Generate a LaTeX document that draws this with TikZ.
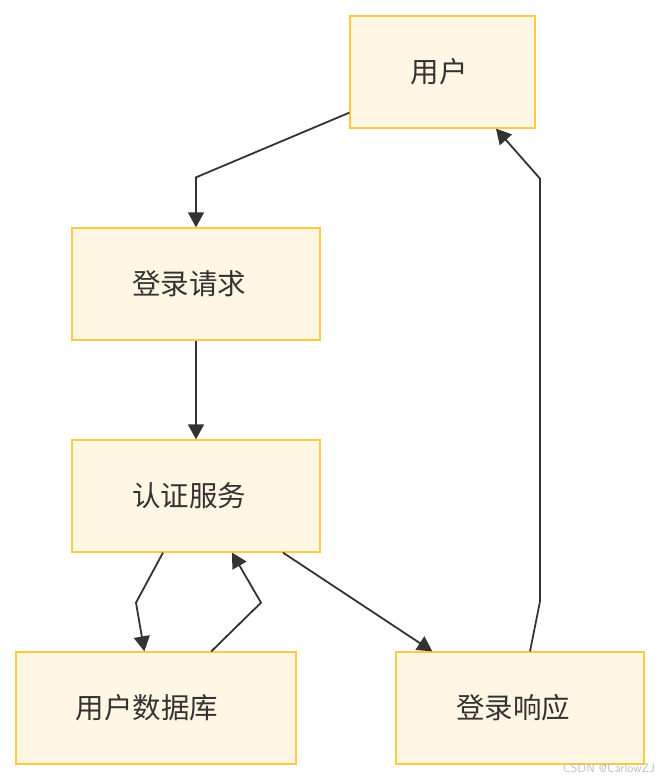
\documentclass[tikz,border=0pt]{standalone}
\usepackage{fontspec}
\newfontfamily\cjk{Noto Sans CJK SC}
\usetikzlibrary{calc,arrows.meta}
\definecolor{boxfill}{HTML}{FFF7E3}
\definecolor{boxline}{HTML}{FFC940}
\definecolor{ink}{HTML}{333333}

\begin{document}
\begin{tikzpicture}[x=1pt,y=-1pt,
  box/.style={draw=boxline,fill=boxfill,line width=1.3pt,minimum height=112pt,
    inner sep=0pt,font=\cjk\fontsize{28.5}{32}\selectfont,text=ink},
  flow/.style={draw=ink,line width=1.8pt,-{Triangle[length=15pt,width=16pt]}}]
\useasboundingbox[fill=white] (0,0) rectangle (660,780);
\coordinate (O) at (0,0);
  \node[box,minimum width=185pt] (user) at ($(O)+(442.5,72)$) {用户\kern7pt};
  \node[box,minimum width=248pt] (req) at ($(O)+(196,284)$) {登录请求\kern14pt};
  \node[box,minimum width=248pt] (auth) at ($(O)+(196,496)$) {认证服务\kern14pt};
  \node[box,minimum width=280pt] (db) at ($(O)+(156,708)$) {用户数据库\kern18pt};
  \node[box,minimum width=248pt] (resp) at ($(O)+(520,708)$) {登录响应\kern14pt};
  \coordinate (b1) at ($(req.north)+(0,-50)$);
  \coordinate (b2) at ($(auth.south)+(-60,50)$);
  \coordinate (b3) at ($(auth.south)+(65,50)$);
  \coordinate (b4) at ($(resp.north)+(20,-50)$);
  \coordinate (b5) at ($(user.south)+(97.5,50)$);
  \path[flow] ($(user.south west)+(0,-16)$) -- (b1) -- (req.north);
  \path[flow] (req.south) -- (auth.north);
  \path[flow] ($(auth.south)+(-33,0)$) -- (b2) -- ($(db.north west)+(129,0)$);
  \path[flow] ($(db.north west)+(196,0)$) -- (b3) -- ($(auth.south)+(36,0)$);
  \path[flow] ($(auth.south)+(87,0)$) -- ($(resp.north west)+(37,0)$);
  \path[flow] ($(resp.north)+(10,0)$) -- (b4) -- (b5) -- ($(user.south)+(53.5,0)$);
  \node[text=black!25,font=\fontsize{12.5}{14}\selectfont\sffamily,anchor=south east,inner sep=0pt] (mark) at ($(O)+(655,773)$) {CSDN @CarlowZJ};
\end{tikzpicture}
\end{document}
